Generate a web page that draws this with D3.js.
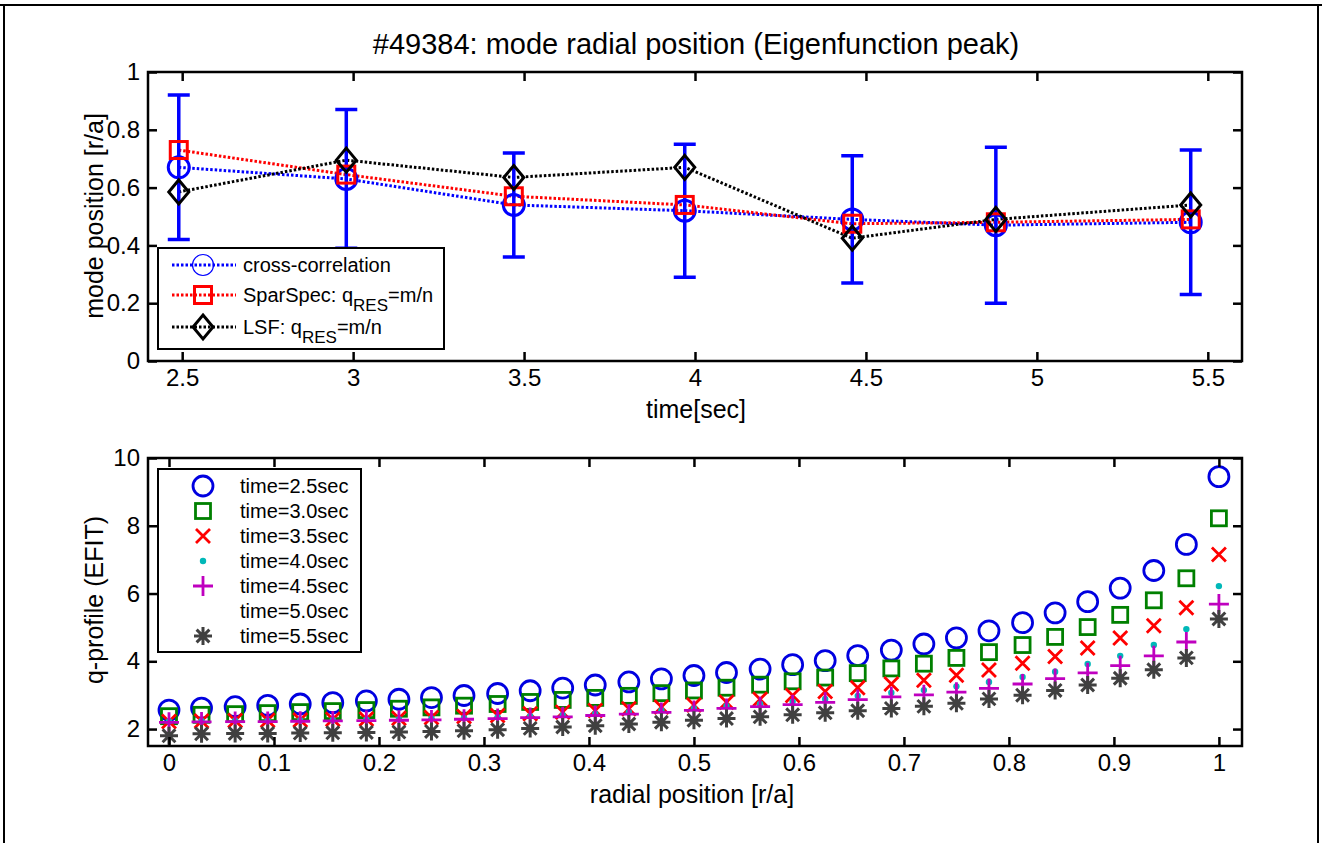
<!DOCTYPE html>
<html lang="en">
<meta charset="UTF-8">

<head>
    <title>#49384 mode radial position</title>
    <script src="https://d3js.org/d3.v7.min.js"></script>
    <style>
        body { margin: 0; background: #fff; }
        text { font-family: "Liberation Sans", Arial, sans-serif; fill: #000; }
    </style>
</head>

<body>
    <div id="plot"></div>

    <script>
        // ---- top panel data (time [sec] vs mode position [r/a]) ----
        var times = [2.49, 2.98, 3.47, 3.97, 4.46, 4.88, 5.45];
        var crossCorr = [0.67, 0.63, 0.54, 0.52, 0.49, 0.47, 0.48];
        var errLow = [0.42, 0.39, 0.36, 0.29, 0.27, 0.20, 0.23];
        var errHigh = [0.92, 0.87, 0.72, 0.75, 0.71, 0.74, 0.73];
        var sparSpec = [0.73, 0.645, 0.57, 0.54, 0.475, 0.48, 0.49];
        var lsf = [0.585, 0.695, 0.635, 0.67, 0.425, 0.49, 0.54];
        var topXTicks = [2.5, 3, 3.5, 4, 4.5, 5, 5.5];
        var topYTicks = [0, 0.2, 0.4, 0.6, 0.8, 1];

        // ---- bottom panel data (q-profile vs r/a) ----
        var rho = [0, 0.031, 0.063, 0.094, 0.125, 0.156, 0.188, 0.219, 0.25, 0.281, 0.313,
            0.344, 0.375, 0.406, 0.438, 0.469, 0.5, 0.531, 0.563, 0.594, 0.625, 0.656,
            0.688, 0.719, 0.75, 0.781, 0.813, 0.844, 0.875, 0.906, 0.938, 0.969, 1];
        var q25 = [2.56, 2.62, 2.66, 2.70, 2.74, 2.78, 2.83, 2.88, 2.93, 2.99, 3.05, 3.13, 3.21,
            3.30, 3.39, 3.48, 3.58, 3.67, 3.77, 3.90, 4.02, 4.17, 4.33, 4.51, 4.69, 4.90, 5.14,
            5.43, 5.76, 6.16, 6.68, 7.45, 9.45];
        var q30 = [2.38, 2.42, 2.44, 2.47, 2.50, 2.53, 2.56, 2.60, 2.64, 2.69, 2.74, 2.80, 2.86,
            2.92, 2.98, 3.06, 3.14, 3.22, 3.31, 3.41, 3.52, 3.65, 3.79, 3.93, 4.10, 4.27, 4.48,
            4.72, 5.01, 5.37, 5.80, 6.45, 8.22];
        var q35 = [2.22, 2.24, 2.25, 2.26, 2.27, 2.29, 2.30, 2.32, 2.34, 2.37, 2.40, 2.45, 2.50,
            2.55, 2.60, 2.65, 2.71, 2.79, 2.88, 2.99, 3.11, 3.22, 3.33, 3.44, 3.59, 3.74, 3.94,
            4.14, 4.39, 4.69, 5.05, 5.58, 7.15];
        var q40 = [2.23, 2.24, 2.25, 2.25, 2.26, 2.27, 2.28, 2.29, 2.31, 2.33, 2.35, 2.38, 2.41,
            2.45, 2.50, 2.55, 2.61, 2.68, 2.74, 2.81, 2.89, 2.98, 3.07, 3.15, 3.26, 3.39, 3.54,
            3.69, 3.92, 4.16, 4.48, 4.95, 6.22];
        var q45 = [2.20, 2.21, 2.22, 2.22, 2.23, 2.24, 2.25, 2.26, 2.27, 2.29, 2.31, 2.34, 2.36,
            2.40, 2.44, 2.49, 2.55, 2.61, 2.66, 2.72, 2.79, 2.87, 2.95, 3.01, 3.09, 3.20, 3.33,
            3.49, 3.66, 3.87, 4.16, 4.57, 5.69];
        var q55 = [1.80, 1.86, 1.87, 1.87, 1.88, 1.89, 1.90, 1.91, 1.93, 1.95, 1.98, 2.02, 2.06,
            2.10, 2.15, 2.20, 2.26, 2.31, 2.36, 2.42, 2.48, 2.54, 2.61, 2.67, 2.76, 2.89, 3.00,
            3.14, 3.30, 3.50, 3.75, 4.10, 5.25];
        var qLabels = ["time=2.5sec", "time=3.0sec", "time=3.5sec", "time=4.0sec",
            "time=4.5sec", "time=5.0sec", "time=5.5sec"];
        var botXTicks = [0, 0.1, 0.2, 0.3, 0.4, 0.5, 0.6, 0.7, 0.8, 0.9, 1];
        var botYTicks = [2, 4, 6, 8, 10];

        var width = 1322, height = 843;
        var svg = d3.select('#plot').append('svg')
            .attr('width', width)
            .attr('height', height);

        // outer frame
        svg.append("path")
            .attr("d", "M4,843V5H1318V843 M0,5H4 M1318,5H1322")
            .attr("fill", "none").attr("stroke", "#000").attr("stroke-width", 2);

        var fmt = d3.format("~g");

        // draws a matlab-like box with inward ticks on all sides
        function drawBox(x, y, xt, yt) {
            var g = svg.append("g");
            var x0 = x.range()[0], x1 = x.range()[1];
            var y0 = y.range()[0], y1 = y.range()[1];
            var ax = g.append("g").attr("transform", "translate(0," + y0 + ")")
                .call(d3.axisBottom(x).tickValues(xt).tickFormat(fmt).tickSize(-9).tickPadding(8));
            g.append("g").attr("transform", "translate(0," + y1 + ")")
                .call(d3.axisTop(x).tickValues(xt).tickFormat("").tickSize(-9));
            g.append("g").attr("transform", "translate(" + x0 + ",0)")
                .call(d3.axisLeft(y).tickValues(yt).tickFormat(fmt).tickSize(-9).tickPadding(8));
            g.append("g").attr("transform", "translate(" + x1 + ",0)")
                .call(d3.axisRight(y).tickValues(yt).tickFormat("").tickSize(-9));
            g.selectAll(".domain").remove();
            g.selectAll(".tick line").attr("stroke", "#000").attr("stroke-width", 2.5);
            g.selectAll(".tick text").style("font-size", "24px")
                .style("font-family", "'Liberation Sans', Arial, sans-serif");
            g.append("rect")
                .attr("x", x0).attr("y", y1)
                .attr("width", x1 - x0).attr("height", y0 - y1)
                .attr("fill", "none").attr("stroke", "#000").attr("stroke-width", 2.5);
            return g;
        }

        // ================= top panel =================
        var xTop = d3.scaleLinear().domain([2.4, 5.6]).range([148, 1242]);
        var yTop = d3.scaleLinear().domain([0, 1]).range([361, 72]);

        var topG = svg.append("g");
        var lineGen = function (vals) {
            return d3.line().x((d, i) => xTop(times[i])).y(d => yTop(d))(vals);
        };
        var diamond = "M0,-12L10,0L0,12L-10,0Z";

        // dotted lines
        topG.append("path").attr("d", lineGen(crossCorr))
            .attr("fill", "none").attr("stroke", "#0000ff").attr("stroke-width", 3)
            .attr("stroke-dasharray", "2.5,2");
        topG.append("path").attr("d", lineGen(sparSpec))
            .attr("fill", "none").attr("stroke", "#ff0000").attr("stroke-width", 3)
            .attr("stroke-dasharray", "2.5,2");
        topG.append("path").attr("d", lineGen(lsf))
            .attr("fill", "none").attr("stroke", "#000").attr("stroke-width", 3)
            .attr("stroke-dasharray", "2.5,2");

        // error bars
        times.forEach(function (t, i) {
            var cx = xTop(t);
            topG.append("path")
                .attr("d", "M" + cx + "," + yTop(errLow[i]) + "V" + yTop(errHigh[i]) +
                    "M" + (cx - 11) + "," + yTop(errLow[i]) + "H" + (cx + 11) +
                    "M" + (cx - 11) + "," + yTop(errHigh[i]) + "H" + (cx + 11))
                .attr("fill", "none").attr("stroke", "#0000ff").attr("stroke-width", 3.5);
        });

        topG.selectAll(".cc").data(crossCorr).join("circle")
            .attr("cx", (d, i) => xTop(times[i])).attr("cy", d => yTop(d)).attr("r", 10.5)
            .attr("fill", "none").attr("stroke", "#0000ff").attr("stroke-width", 3);
        topG.selectAll(".ss").data(sparSpec).join("rect")
            .attr("x", (d, i) => xTop(times[i]) - 8.5).attr("y", d => yTop(d) - 8.5)
            .attr("width", 17).attr("height", 17)
            .attr("fill", "none").attr("stroke", "#ff0000").attr("stroke-width", 3);
        topG.selectAll(".lsf").data(lsf).join("path")
            .attr("transform", (d, i) => "translate(" + xTop(times[i]) + "," + yTop(d) + ")")
            .attr("d", diamond)
            .attr("fill", "none").attr("stroke", "#000").attr("stroke-width", 3);

        drawBox(xTop, yTop, topXTicks, topYTicks);

        // top legend
        var lg = svg.append("g");
        lg.append("rect").attr("x", 158).attr("y", 248).attr("width", 286).attr("height", 101)
            .attr("fill", "#fff").attr("stroke", "#000").attr("stroke-width", 2);
        var legRows = [
            { y: 265, color: "#0000ff", mark: "circle", main: "cross-correlation" },
            { y: 295, color: "#ff0000", mark: "square", main: "SparSpec: q", sub: "RES", tail: "=m/n" },
            { y: 327, color: "#000", mark: "diamond", main: "LSF: q", sub: "RES", tail: "=m/n" }
        ];
        legRows.forEach(function (r) {
            lg.append("line").attr("x1", 172).attr("x2", 236).attr("y1", r.y).attr("y2", r.y)
                .attr("stroke", r.color).attr("stroke-width", 3).attr("stroke-dasharray", "2.5,2");
            if (r.mark == "circle") {
                lg.append("circle").attr("cx", 203).attr("cy", r.y).attr("r", 10.5)
                    .attr("fill", "none").attr("stroke", r.color).attr("stroke-width", 1.2);
            } else if (r.mark == "square") {
                lg.append("rect").attr("x", 203 - 8.5).attr("y", r.y - 8.5).attr("width", 17).attr("height", 17)
                    .attr("fill", "none").attr("stroke", r.color).attr("stroke-width", 3);
            } else {
                lg.append("path").attr("transform", "translate(203," + r.y + ")").attr("d", diamond)
                    .attr("fill", "none").attr("stroke", r.color).attr("stroke-width", 3);
            }
            var t = lg.append("text").attr("x", 243).attr("y", r.y + 7).style("font-size", "20px");
            t.append("tspan").text(r.main);
            if (r.sub) {
                t.append("tspan").attr("dy", 9).style("font-size", "17px").text(r.sub);
                t.append("tspan").attr("dy", -9).text(r.tail);
            }
        });

        svg.append("text").attr("x", 696).attr("y", 418).attr("text-anchor", "middle")
            .style("font-size", "25px").text("time[sec]");
        svg.append("text").attr("transform", "translate(103,216) rotate(-90)")
            .attr("text-anchor", "middle").style("font-size", "25px").text("mode position [r/a]");
        svg.append("text").attr("x", 696).attr("y", 54).attr("text-anchor", "middle")
            .style("font-size", "29px").text("#49384: mode radial position (Eigenfunction peak)");

        // ================= bottom panel =================
        var xBot = d3.scaleLinear().domain([-0.02, 1.022]).range([148, 1242]);
        var yBot = d3.scaleLinear().domain([1.5, 10]).range([746, 458]);
        var botG = svg.append("g");

        var markers = {
            circle: function (g, c) {
                g.append("circle").attr("r", 10).attr("fill", "none").attr("stroke", c).attr("stroke-width", 2.8);
            },
            square: function (g, c) {
                g.append("rect").attr("x", -7.5).attr("y", -7.5).attr("width", 15).attr("height", 15)
                    .attr("fill", "none").attr("stroke", c).attr("stroke-width", 2.8);
            },
            cross: function (g, c) {
                g.append("path").attr("d", "M-7,-7L7,7M-7,7L7,-7").attr("stroke", c).attr("stroke-width", 2.8);
            },
            dot: function (g, c) {
                g.append("circle").attr("r", 3.2).attr("fill", c);
            },
            plus: function (g, c) {
                g.append("path").attr("d", "M-10,0H10M0,-10V10").attr("stroke", c).attr("stroke-width", 2.8);
            },
            none: function () { },
            star: function (g, c) {
                g.append("path").attr("d", "M-9,0H9M0,-9V9M-6.4,-6.4L6.4,6.4M-6.4,6.4L6.4,-6.4")
                    .attr("stroke", c).attr("stroke-width", 3);
            }
        };
        var qSeries = [
            { vals: q25, color: "#0000e0", mark: "circle" },
            { vals: q30, color: "#008000", mark: "square" },
            { vals: q35, color: "#ff0000", mark: "cross" },
            { vals: q40, color: "#00b8b8", mark: "dot" },
            { vals: q45, color: "#bf00bf", mark: "plus" },
            { vals: null, color: "#fff", mark: "none" },
            { vals: q55, color: "#404040", mark: "star" }
        ];
        qSeries.forEach(function (s) {
            if (!s.vals) return;
            botG.selectAll(null).data(s.vals).join("g")
                .attr("transform", (d, i) => "translate(" + xBot(rho[i]) + "," + yBot(d) + ")")
                .each(function () { markers[s.mark](d3.select(this), s.color); });
        });

        drawBox(xBot, yBot, botXTicks, botYTicks);

        var lg2 = svg.append("g");
        lg2.append("rect").attr("x", 158).attr("y", 469).attr("width", 203).attr("height", 183)
            .attr("fill", "#fff").attr("stroke", "#000").attr("stroke-width", 2);
        qSeries.forEach(function (s, i) {
            var yy = 486 + i * 25;
            var mg = lg2.append("g").attr("transform", "translate(203," + yy + ")");
            markers[s.mark](mg, s.color);
            lg2.append("text").attr("x", 240).attr("y", yy + 7).style("font-size", "20px").text(qLabels[i]);
        });

        svg.append("text").attr("x", 692).attr("y", 803).attr("text-anchor", "middle")
            .style("font-size", "25px").text("radial position [r/a]");
        svg.append("text").attr("transform", "translate(103,600) rotate(-90)")
            .attr("text-anchor", "middle").style("font-size", "25px").text("q-profile (EFIT)");
    </script>

</body>

</html>
